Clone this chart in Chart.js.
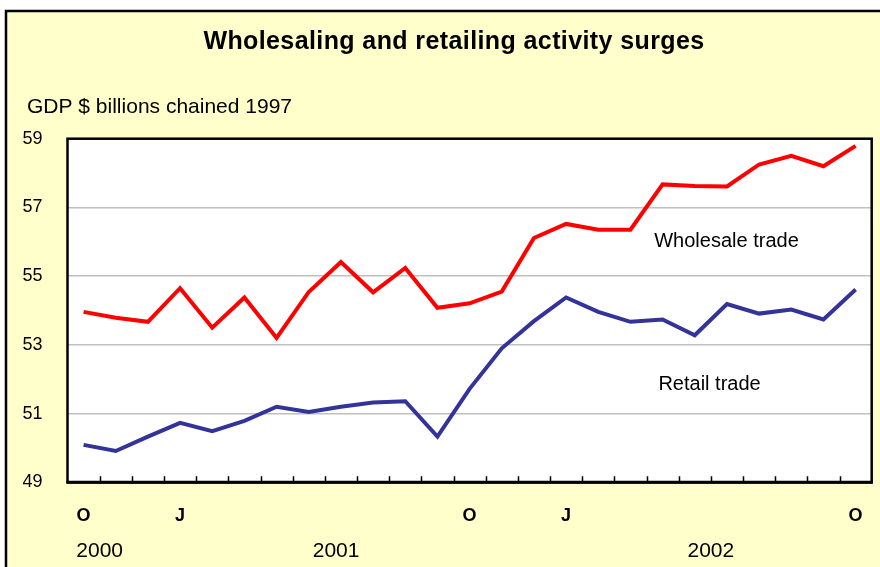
<!DOCTYPE html>
<html>
<head>
<meta charset="utf-8">
<script src="https://cdn.jsdelivr.net/npm/chart.js@4/dist/chart.umd.min.js"></script>
<style>
  html, body { margin: 0; padding: 0; background: #ffffff; }
  #mycanvas { display: block; }
</style>
</head>
<body>
<canvas id="mycanvas" width="880" height="567"></canvas>
<script>
// monthly, Oct 2000 - Oct 2002
var months = ['Oct 2000', 'Nov 2000', 'Dec 2000',
    'Jan 2001', 'Feb 2001', 'Mar 2001', 'Apr 2001', 'May 2001', 'Jun 2001',
    'Jul 2001', 'Aug 2001', 'Sep 2001', 'Oct 2001', 'Nov 2001', 'Dec 2001',
    'Jan 2002', 'Feb 2002', 'Mar 2002', 'Apr 2002', 'May 2002', 'Jun 2002',
    'Jul 2002', 'Aug 2002', 'Sep 2002', 'Oct 2002'];
var wholesale = [53.96, 53.79, 53.67, 54.65, 53.50, 54.38, 53.20, 54.54, 55.41,
    54.53, 55.24, 54.08, 54.21, 54.55, 56.11, 56.52, 56.35, 56.35, 57.67,
    57.62, 57.61, 58.25, 58.50, 58.20, 58.79];
var retail = [50.09, 49.91, 50.33, 50.73, 50.49, 50.79, 51.20, 51.05, 51.20,
    51.32, 51.36, 50.33, 51.72, 52.90, 53.69, 54.38, 53.96, 53.67, 53.74,
    53.28, 54.19, 53.91, 54.03, 53.74, 54.61];
var yTicks = [49, 51, 53, 55, 57, 59];
var yearLabels = ['2000', '2001', '2002'];
var yearAt = [0.5, 7.85, 19.5]; // month index the year label sits under

var titleText = 'Wholesaling and retailing activity surges';
var unitText = 'GDP $ billions chained 1997';

var FONT = '"Liberation Sans", Arial, sans-serif';

var chartDeco = {
    id: 'chartDeco',
    beforeDraw: function(chart) {
        var c = chart.ctx;
        var a = chart.chartArea;
        c.save();
        // yellow panel
        c.fillStyle = '#FFFFCC';
        c.fillRect(5, 10, 900, 600);
        c.strokeStyle = '#000000';
        c.lineWidth = 2.5;
        c.beginPath();
        c.moveTo(6, 600);
        c.lineTo(6, 11);
        c.lineTo(900, 11);
        c.stroke();
        // plot area
        c.fillStyle = '#FFFFFF';
        c.fillRect(a.left, a.top, a.right - a.left, a.bottom - a.top);
        // texts
        c.fillStyle = '#000000';
        c.textBaseline = 'alphabetic';
        c.textAlign = 'center';
        c.font = 'bold 25px ' + FONT;
        c.letterSpacing = '0.4px';
        c.fillText(titleText, 454, 49);
        c.letterSpacing = '0px';
        c.textAlign = 'left';
        c.font = '21px ' + FONT;
        c.fillText(unitText, 27, 113);
        c.restore();
    },
    afterDatasetsDraw: function(chart) {
        var c = chart.ctx;
        var a = chart.chartArea;
        var x = chart.scales.x;
        var y = chart.scales.y;
        c.save();
        // small ticks between months, pointing into plot
        c.strokeStyle = '#000000';
        c.lineWidth = 1.5;
        c.beginPath();
        for (var i = 0; i < months.length - 1; i++) {
            var px = Math.round(x.getPixelForValue(i + 0.5)) + 0.5;
            c.moveTo(px, a.bottom);
            c.lineTo(px, a.bottom - 6);
        }
        c.stroke();
        // frame
        c.lineWidth = 2.5;
        c.strokeRect(a.left, a.top, a.right - a.left, a.bottom - a.top);
        c.lineWidth = 3;
        c.beginPath();
        c.moveTo(a.left - 1, a.bottom);
        c.lineTo(a.right + 1, a.bottom);
        c.stroke();
        // series names
        c.fillStyle = '#000000';
        c.font = '20px ' + FONT;
        c.textAlign = 'left';
        c.textBaseline = 'alphabetic';
        c.fillText('Wholesale trade', x.getPixelForValue(17.74), y.getPixelForValue(55.84));
        c.fillText('Retail trade', x.getPixelForValue(17.87), y.getPixelForValue(51.69));
        c.restore();
    }
};

function noSidePadding(s) {
    s.paddingLeft = 0;
    s.paddingRight = 0;
}

var ctx = document.getElementById('mycanvas');
var myChart = new Chart(ctx, {
    type: 'line',
    data: {
        labels: months,
        datasets: [{
            label: 'Wholesale trade',
            data: wholesale,
            borderColor: '#FF0000',
            borderWidth: 4,
            pointRadius: 0,
            tension: 0
        }, {
            label: 'Retail trade',
            data: retail,
            borderColor: '#333399',
            borderWidth: 4,
            pointRadius: 0,
            tension: 0
        }]
    },
    options: {
        responsive: false,
        animation: false,
        layout: { padding: { left: 0, right: 8.3, top: 138.7, bottom: 0 } },
        plugins: {
            legend: { display: false },
            tooltip: { enabled: false },
            title: { display: false }
        },
        scales: {
            x: {
                type: 'category',
                offset: true,
                weight: 0,
                grid: { display: false, drawTicks: false },
                border: { display: false },
                ticks: {
                    autoSkip: false,
                    maxRotation: 0,
                    padding: 23,
                    color: '#000000',
                    font: { family: FONT, size: 18, weight: 'bold' },
                    callback: function(v, i) {
                        var m = months[i].slice(0, 3);
                        if (m === 'Oct') return 'O';
                        if (m === 'Jan') return 'J';
                        return '';
                    }
                },
                afterFit: function(s) { s.height = 47; noSidePadding(s); }
            },
            years: {
                type: 'linear',
                position: 'bottom',
                weight: 1,
                min: -0.5,
                max: months.length - 0.5,
                grid: { display: false, drawTicks: false },
                border: { display: false },
                ticks: {
                    padding: 9,
                    color: '#000000',
                    font: { family: FONT, size: 21 },
                    callback: function(v, i) { return yearLabels[i]; }
                },
                afterBuildTicks: function(s) {
                    s.ticks = yearAt.map(function(v) { return { value: v }; });
                },
                afterFit: function(s) { s.height = 37.7; noSidePadding(s); }
            },
            y: {
                min: 49,
                max: 59,
                grid: { color: '#C0C0C0', lineWidth: 1.5, drawTicks: false },
                border: { display: false },
                ticks: {
                    padding: 25,
                    color: '#000000',
                    font: { family: FONT, size: 18 }
                },
                afterBuildTicks: function(s) {
                    s.ticks = yTicks.map(function(v) { return { value: v }; });
                },
                afterFit: function(s) { s.width = 67.5; }
            }
        }
    },
    plugins: [chartDeco]
});
</script>
</body>
</html>
